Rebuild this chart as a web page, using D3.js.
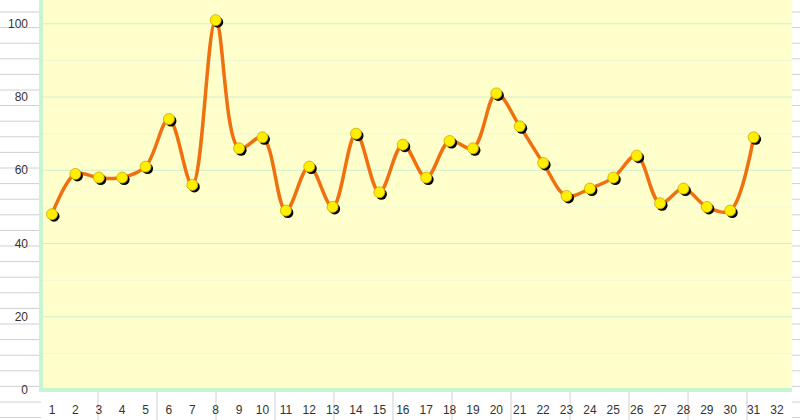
<!DOCTYPE html>
<html><head><meta charset="utf-8">
<script src="https://cdn.jsdelivr.net/npm/d3@7"></script>
<style>body{margin:0;background:#fff}text{font-family:"Liberation Sans",Arial,sans-serif}</style>
</head><body>
<script>
const days = d3.range(1, 33)
const values = [48,59,58,58,61,74,56,101,66,69,49,61,50,70,54,67,58,68,66,81,72,62,53,55,58,64,51,55,50,49,69]
const yTicks = [0,20,40,60,80,100]

const W = 800, H = 420
const plot = {left: 41, right: 792, top: 0, bottom: 390}

const svg = d3.select('body').append('svg').attr('width', W).attr('height', H)

const x = d3.scalePoint().domain(days).range([52, 777])
const y = d3.scaleLinear().domain([0, 106.5]).range([plot.bottom, plot.top])

// grey decoration lines outside the plot
const gg = svg.append('g').attr('stroke', '#d0d0d0')
d3.range(12, H, 15.6).forEach(v => {
  gg.append('line').attr('x1', 0).attr('x2', plot.left).attr('y1', v).attr('y2', v)
  gg.append('line').attr('x1', plot.right).attr('x2', W).attr('y1', v).attr('y2', v)
})
d3.range(98, W, 59).forEach(v => {
  gg.append('line').attr('x1', v).attr('x2', v).attr('y1', plot.bottom).attr('y2', H)
})

svg.append('rect').attr('x', plot.left).attr('y', plot.top)
  .attr('width', plot.right - plot.left).attr('height', plot.bottom - plot.top)
  .attr('fill', '#ffffcc')

// gridlines
svg.append('g').selectAll('line').data(d3.range(0, 106, 10)).join('line')
  .attr('x1', plot.left).attr('x2', plot.right)
  .attr('y1', d => y(d)).attr('y2', d => y(d))
  .attr('stroke', d => d % 20 === 0 ? '#ccf0cc' : '#eef8d8')

// plot border left/bottom
svg.append('path').attr('d', `M${plot.left},0V${plot.bottom}H${plot.right}`)
  .attr('fill', 'none').attr('stroke', '#c8f5d0').attr('stroke-width', 4)

// y axis labels
svg.append('g').selectAll('text').data(yTicks).join('text')
  .attr('x', 28).attr('y', d => y(d) + 4).attr('text-anchor', 'end')
  .attr('font-size', 12).attr('fill', '#333').text(d => d)

// x axis labels
svg.append('g').selectAll('text').data(days).join('text')
  .attr('x', d => x(d)).attr('y', 414).attr('text-anchor', 'middle')
  .attr('font-size', 12).attr('fill', '#333').text(d => d)

const pts = values.map((v, i) => [x(days[i]), y(v)])

svg.append('path').datum(pts)
  .attr('d', d3.line().curve(d3.curveCatmullRom.alpha(0.5)))
  .attr('fill', 'none').attr('stroke', '#f07010').attr('stroke-width', 3.5)

svg.append('g').selectAll('circle').data(pts).join('circle')
  .attr('cx', d => d[0] + 2).attr('cy', d => d[1] + 2).attr('r', 5.5).attr('fill', '#000')
svg.append('g').selectAll('circle').data(pts).join('circle')
  .attr('cx', d => d[0]).attr('cy', d => d[1]).attr('r', 5.5)
  .attr('fill', '#ffee00').attr('stroke', '#c8a800').attr('stroke-width', 0.8)
</script>
</body></html>
